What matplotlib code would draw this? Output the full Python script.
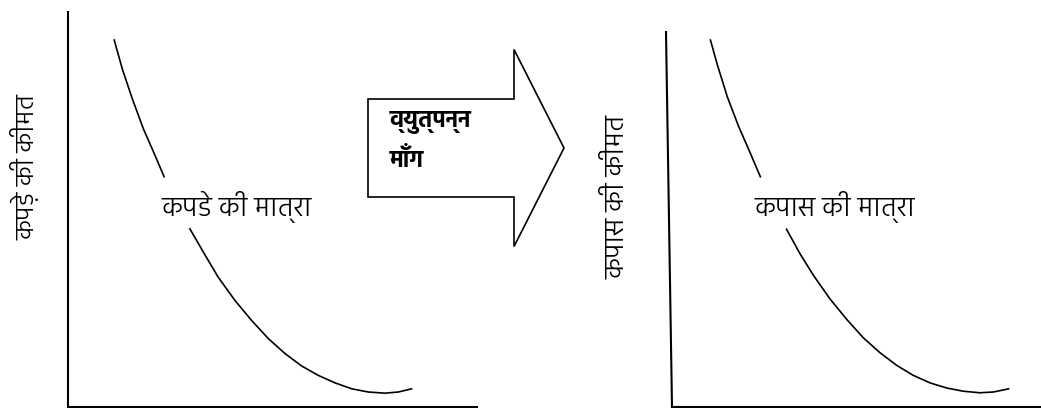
import matplotlib
matplotlib.use('Agg')
import matplotlib.pyplot as plt
from matplotlib import font_manager
from matplotlib.ft2font import FT2Font
from matplotlib.patches import FancyArrow

# pick a font that has Devanagari glyphs
deva = []
for f in font_manager.fontManager.ttflist:
    try:
        if f.name not in deva and 0x0915 in FT2Font(f.fname).get_charmap():
            deva.append(f.name)
    except Exception:
        pass
pick = [n for n in ['Hind', 'Noto Sans Devanagari', 'Mukta', 'FreeSans'] if n in deva]
plt.rcParams['font.family'] = (pick[:1] or deva[:1]) + ['DejaVu Sans']

# left panel: cloth (curve has a gap where the label sits)
cloth_q_top = [11.3, 13.3, 15.7, 18.4, 20.9, 23.5]
cloth_p_top = [92.9, 85.5, 78.1, 70.5, 64.6, 58.3]
cloth_q_low = [29.8, 33.5, 36.7, 40.8, 44.9, 49.0, 53.1, 57.1, 61.2, 65.3,
               69.4, 73.4, 77.5, 80.8, 84.0]
cloth_p_low = [45.1, 38.5, 32.9, 27.0, 21.9, 17.3, 13.5, 10.4, 8.0, 6.1,
               4.6, 3.8, 3.5, 3.8, 4.6]

# right panel: cotton
cotton_q_top = [9.4, 11.1, 13.5, 16.3, 18.8, 21.6]
cotton_p_top = [92.9, 86.6, 78.6, 71.0, 65.1, 58.3]
cotton_q_low = [28.0, 31.3, 34.6, 38.6, 42.7, 46.8, 50.9, 55.0, 59.0, 63.1,
                67.2, 71.2, 75.3, 78.6, 82.3]
cotton_p_low = [45.0, 38.8, 33.3, 27.4, 22.2, 17.5, 13.7, 10.5, 8.0, 6.1,
                4.8, 4.0, 3.6, 3.8, 4.6]

cloth_qty = 'कपडे की मात्रा'
cloth_price = 'कप\u095cे की कीमत'
cotton_qty = 'कपास की मात्रा'
cotton_price = 'कपास की कीमत'
arrow_lines = ['व्युत्पन्न', 'माँग']

W, H = 1041, 408
fig = plt.figure(figsize=(W/100, H/100), dpi=100)

def panel(left_px):
    ax = fig.add_axes([left_px/W, 1/H, 409/W, 395/H])
    ax.set_xlim(0, 100)
    ax.set_ylim(0, 100)
    ax.set_xticks([]); ax.set_yticks([])
    for s in ['top', 'right']:
        ax.spines[s].set_visible(False)
    for s in ['left', 'bottom']:
        ax.spines[s].set_linewidth(1.5)
    return ax

ax1 = panel(68)
ax1.plot(cloth_q_top, cloth_p_top, color='black', lw=1.2)
ax1.plot(cloth_q_low, cloth_p_low, color='black', lw=1.2)
ax1.text(41.3, 50.6, cloth_qty, ha='center', va='center', fontsize=20,
         fontweight='light')
ax1.set_ylabel(cloth_price, fontsize=19, va='center', fontweight='light')
ax1.yaxis.set_label_coords(-0.105, 0.608)

ax2 = panel(672)
ax2.spines['left'].set_visible(False)
# the y axis here is drawn slightly slanted and shorter
ax2.plot([0, -6/409], [0, 375/395], color='black', lw=1.5,
         transform=ax2.transAxes, clip_on=False)
ax2.plot(cotton_q_top, cotton_p_top, color='black', lw=1.2)
ax2.plot(cotton_q_low, cotton_p_low, color='black', lw=1.2)
ax2.text(39.9, 50.6, cotton_qty, ha='center', va='center', fontsize=20,
         fontweight='light')
ax2.set_ylabel(cotton_price, fontsize=20, va='center', fontweight='light')
ax2.yaxis.set_label_coords(-0.134, 0.532)

# block arrow in the middle, pixel coordinates
ov = fig.add_axes([0, 0, 1, 1])
ov.set_xlim(0, W); ov.set_ylim(H, 0)
ov.axis('off')
ov.add_patch(FancyArrow(368, 148, 196, 0, width=98, head_width=197,
                        head_length=50, length_includes_head=True,
                        facecolor='white', edgecolor='black', lw=1.2))
ov.text(390, 123, arrow_lines[0], ha='left', va='center', fontsize=17,
        fontweight='bold')
ov.text(390, 159, arrow_lines[1], ha='left', va='center', fontsize=17,
        fontweight='bold')

fig.savefig('out.png', dpi=100)
